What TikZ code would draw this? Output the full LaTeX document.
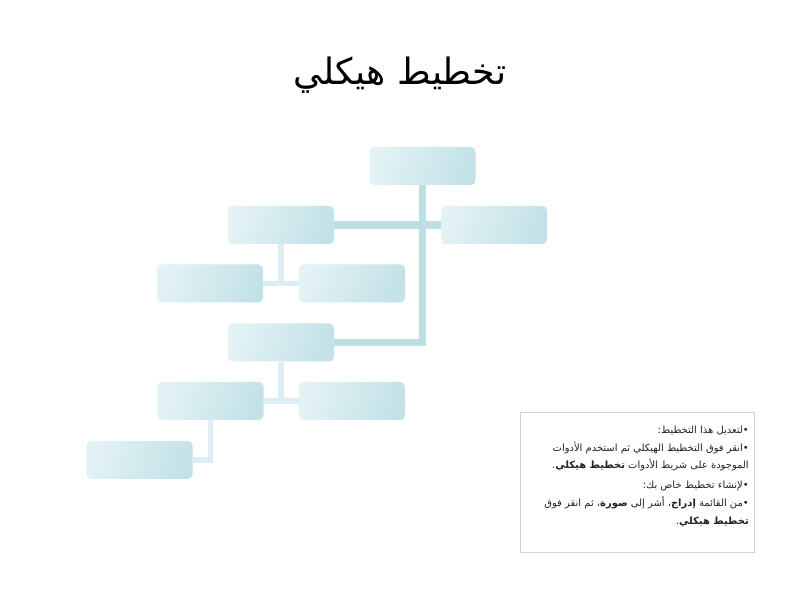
\documentclass[tikz,border=0pt]{standalone}
\usepackage{fontspec}
\newfontfamily\arabicfont[Script=Arabic]{DejaVu Sans}
\TeXXeTstate=1
\usetikzlibrary{positioning}
\definecolor{boxlight}{HTML}{E3F2F4}
\definecolor{boxdark}{HTML}{C3E2E7}
\definecolor{linemain}{HTML}{BDDFE4}
\definecolor{linesub}{HTML}{DCEEF1}
\definecolor{noteframe}{HTML}{D2D2D2}
\definecolor{notefont}{HTML}{222222}
\tikzset{
  orgbox/.style={rounded corners=4pt, minimum width=3.18cm, minimum height=1.14cm, inner sep=0pt,
    left color=boxlight, middle color=boxlight, right color=boxdark, shading angle=70},
  mainline/.style={linemain, line width=6pt},
  subline/.style={linesub, line width=4.8pt},
  notebox/.style={draw=noteframe, line width=0.6pt, minimum width=7.02cm, minimum height=4.2cm, inner sep=0pt},
  notetext/.style={align=right, inner sep=0pt, text=notefont, font=\arabicfont\fontsize{8.5pt}{15pt}\selectfont},
}

\begin{document}
\begin{tikzpicture}[x=0.03cm, y=-0.03cm]
	\useasboundingbox[fill=white] (0,0) rectangle (800,600);
	\node[font=\arabicfont\fontsize{31pt}{36pt}\selectfont] (title) at (400,75) {\beginR تخطيط هيكلي\endR};
	% boxes
	\node[orgbox] (root) at (422.5,166) {};
	\node[orgbox] (asst) at (494,225) {};
	\node[orgbox] (mgra) at (281,225) {};
	\node[orgbox] (suba) at (210,283.5) {};
	\node[orgbox] (subb) at (352,283.5) {};
	\node[orgbox] (mgrb) at (281,342.5) {};
	\node[orgbox] (subc) at (210.5,401) {};
	\node[orgbox] (subd) at (352,401) {};
	\node[orgbox] (leaf) at (139.5,460) {};
	% connectors
	\draw[mainline] (root.south) |- (mgrb.east);
	\draw[mainline] (mgra.east) -- (asst.west);
	\draw[subline] (mgra.south) -- (mgra.south |- suba.east);
	\draw[subline] (suba.east) -- (subb.west);
	\draw[subline] (mgrb.south) -- (mgrb.south |- subc.east);
	\draw[subline] (subc.east) -- (subd.west);
	\draw[subline] (subc.south) |- (leaf.east);
	% note
	\node[notebox] (note) at (637,482) {};
	\node[notetext, anchor=north east] (notetext) at (749,426) {%
		\beginR •لتعديل هذا التخطيط:\endR\\
		\beginR •انقر فوق التخطيط الهيكلي ثم استخدم الأدوات\endR\\
		\beginR الموجودة على شريط الأدوات \textbf{تخطيط هيكلي}.\endR\\[2pt]
		\beginR •لإنشاء تخطيط خاص بك:\endR\\
		\beginR •من القائمة \textbf{إدراج}، أشر إلى \textbf{صورة}، ثم انقر فوق\endR\\
		\beginR \textbf{تخطيط هيكلي}.\endR};
\end{tikzpicture}
\end{document}
